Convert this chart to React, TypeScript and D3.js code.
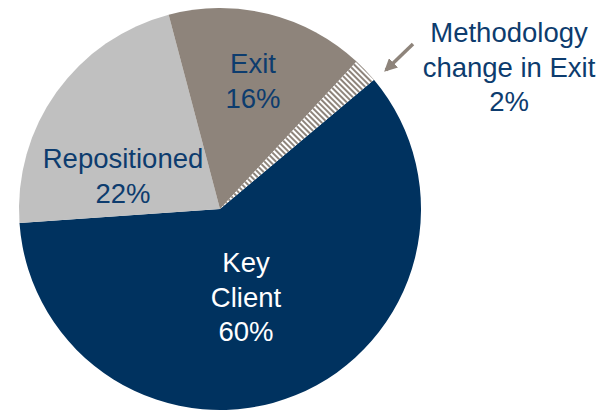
import React from "react";
import * as d3 from "d3";

const categories = ["Key Client", "Repositioned", "Exit", "Methodology change in Exit"];
const values = [60, 22, 16, 2];
const labelLines = [["Key", "Client", "60%"], ["Repositioned", "22%"], ["Exit", "16%"], ["Methodology", "change in Exit", "2%"]];
const colors = ["#00325f", "#c0c0c0", "#8e847b", "url(#hatch)"];

const W = 607;
const H = 412;
const cx = 220;
const cy = 209;
const R = 201;

export default function App() {
  const pie = d3
    .pie<number>()
    .sort(null)
    .startAngle((50 * Math.PI) / 180)
    .endAngle((50 * Math.PI) / 180 + 2 * Math.PI);
  const arcs = pie(values);
  const arc = d3.arc<d3.PieArcDatum<number>>().innerRadius(0).outerRadius(R);

  const fontSize = 27.5;
  const lineH = 34.5;
  const textStyle = { fontFamily: "'Liberation Sans', Arial, sans-serif", fontSize };

  const labelPos: [number, number, string][] = [
    [246, 272, "#ffffff"],
    [123, 168, "#0d3c6e"],
    [253, 73, "#0d3c6e"],
    [509, 42, "#0d3c6e"],
  ];

  return (
    <svg width={W} height={H} style={{ position: "absolute", left: 0, top: 0 }}>
      <defs>
        <pattern id="hatch" width={4} height={4} patternUnits="userSpaceOnUse" patternTransform="rotate(-45)">
          <rect width={4} height={4} fill="#ffffff" />
          <rect width={2} height={4} fill="#8e847b" />
        </pattern>
        <marker id="arrowhead" viewBox="0 0 10 10" refX={8} refY={5} markerWidth={13} markerHeight={13} markerUnits="userSpaceOnUse" orient="auto">
          <path d="M0,0 L10,5 L0,10 z" fill="#8e847b" />
        </marker>
      </defs>
      <g transform={`translate(${cx},${cy})`}>
        {arcs.map((a, i) => (
          <path key={categories[i]} d={arc(a) || ""} fill={colors[i]} />
        ))}
      </g>
      {labelLines.map((lines, i) => (
        <text key={categories[i]} textAnchor="middle" fill={labelPos[i][2]} style={textStyle}>
          {lines.map((l, j) => (
            <tspan key={j} x={labelPos[i][0]} y={labelPos[i][1] + j * lineH}>
              {l}
            </tspan>
          ))}
        </text>
      ))}
      <line x1={413} y1={44} x2={386} y2={70} stroke="#8e847b" strokeWidth={3.5} markerEnd="url(#arrowhead)" />
    </svg>
  );
}
